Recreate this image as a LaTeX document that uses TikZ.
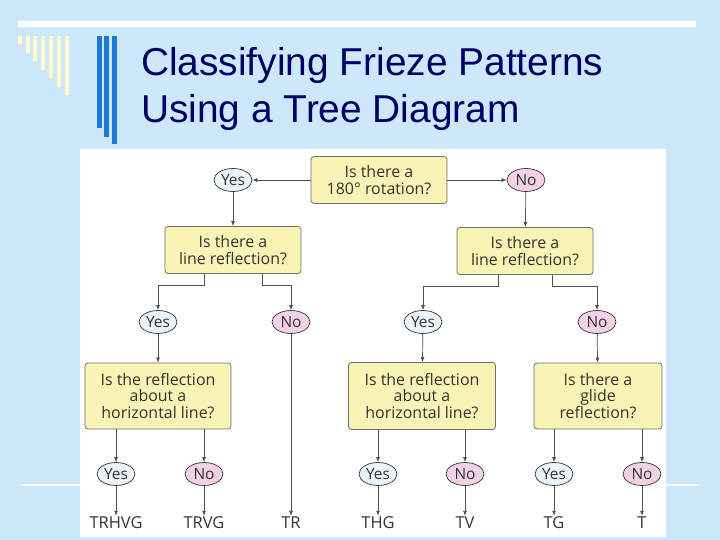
\documentclass[tikz,border=0pt]{standalone}
\usepackage{fontspec}
\setmainfont{Open Sans}
\newfontfamily\titlefont{Liberation Sans}
\usetikzlibrary{positioning}
\usetikzlibrary{shapes.geometric,arrows.meta}

\definecolor{slidebg}{HTML}{CDE8FA}
\definecolor{barcream}{HTML}{FFFFCC}
\definecolor{barblue}{HTML}{1E78D8}
\definecolor{titleblue}{HTML}{000066}
\definecolor{boxfill}{HTML}{F9F4B6}
\definecolor{boxline}{HTML}{6E6E6E}
\definecolor{inkgray}{HTML}{333333}
\definecolor{yesfill}{HTML}{ECF3F9}
\definecolor{nofill}{HTML}{F2D2E6}

\tikzset{
  question/.style={draw=boxline,fill=boxfill,rounded corners=3bp,line width=0.8bp,
    align=center,text=inkgray,inner sep=2bp,font=\fontsize{16}{16.5}\selectfont},
  answer/.style={ellipse,draw=inkgray,line width=0.7bp,inner sep=0pt,
    minimum width=38bp,minimum height=23bp,text=inkgray,font=\fontsize{15.5}{15.5}\selectfont},
  yesans/.style={answer,fill=yesfill},
  noans/.style={answer,fill=nofill},
  leaf/.style={text=inkgray,inner sep=1bp,font=\fontsize{16.5}{16.5}\selectfont},
  arr/.style={draw=inkgray!85,line width=0.7bp,-{Latex[length=5bp,width=4bp]}}
}

\begin{document}
\begin{tikzpicture}[x=1bp,y=-1bp]
 % slide background
 \fill[slidebg] (0,0) rectangle (720,540);
 \useasboundingbox (0,0) rectangle (720,540);
 \fill[white] (18,21) rectangle (696,27);
 \fill[white] (21,484) rectangle (699,486);
 \foreach \x/\b in {18/44,26/53,33/61,41/70,49/78,57/87,65/95}
   \fill[barcream] (\x,36) rectangle (\x+4,\b);
 \foreach \x/\b in {97/128,104/137,112/144}
   \fill[barblue] (\x,36) rectangle (\x+5,\b);
 \node[anchor=base west,inner sep=0pt,text=titleblue,font=\titlefont\fontsize{39}{47}\selectfont]
   (title1) at (141,76) {Classifying Frieze Patterns};
 \node[anchor=base west,inner sep=0pt,text=titleblue,font=\titlefont\fontsize{39}{47}\selectfont]
   (title2) at (141,123) {Using a Tree Diagram};
 % tree diagram picture
 \fill[white] (80,149) rectangle (666,537);

 \node[question,minimum width=136bp,minimum height=47bp] (rot) at (379,180) {Is there a\\180\textdegree\ rotation?};
 \node[yesans] (rotyes) at (233,180) {Yes};
 \node[noans] (rotno) at (526,180) {No};

 \node[question,minimum width=136bp,minimum height=47bp] (refla) at (233,250) {Is there a\\line reflection?};
 \node[question,minimum width=136bp,minimum height=47bp] (reflb) at (525,251) {Is there a\\line reflection?};

 \node[yesans] (reflayes) at (158,322) {Yes};
 \node[noans] (reflano) at (291,322) {No};
 \node[yesans] (reflbyes) at (423,322) {Yes};
 \node[noans] (reflbno) at (597,322) {No};

 \node[question,minimum width=146bp,minimum height=66bp] (hora) at (158,396) {Is the reflection\\about a\\horizontal line?};
 \node[question,minimum width=147bp,minimum height=67bp] (horb) at (422,396) {Is the reflection\\about a\\horizontal line?};
 \node[question,minimum width=128bp,minimum height=66bp] (glide) at (598,396) {Is there a\\glide\\reflection?};

 \node[yesans] (horayes) at (116,474) {Yes};
 \node[noans] (horano) at (204,474) {No};
 \node[yesans] (horbyes) at (378,474) {Yes};
 \node[noans] (horbno) at (465,474) {No};
 \node[yesans] (glideyes) at (554,474) {Yes};
 \node[noans] (glideno) at (642,474) {No};

 \node[leaf] (trhvg) at (116,523) {TRHVG};
 \node[leaf] (trvg) at (204,523) {TRVG};
 \node[leaf] (tr) at (291,523) {TR};
 \node[leaf] (thg) at (378,523) {THG};
 \node[leaf] (tv) at (465,523) {TV};
 \node[leaf] (tg) at (554,523) {TG};
 \node[leaf] (t) at (642,523) {T};

 % connectors
 \draw[arr] (rot.west) -- (rotyes);
 \draw[arr] (rot.east) -- (rotno);
 \draw[arr] (rotyes) -- (refla);
 \draw[arr] (rotno) -- (reflb);
 \draw[arr] ([xshift=-29bp]refla.south) -- ++(0,11) -| (reflayes);
 \draw[arr] ([xshift=29bp]refla.south) -- ++(0,11) -| (reflano);
 \draw[arr] ([xshift=-27bp]reflb.south) -- ++(0,11) -| (reflbyes);
 \draw[arr] ([xshift=27bp]reflb.south) -- ++(0,11) -| (reflbno);
 \draw[arr] (reflayes) -- (hora);
 \draw[arr] (reflano) -- (tr);
 \draw[arr] (reflbyes) -- (horb);
 \draw[arr] (reflbno) -- (glide);
 \draw[arr] (horayes |- hora.south) -- (horayes);
 \draw[arr] (horano |- hora.south) -- (horano);
 \draw[arr] (horbyes |- horb.south) -- (horbyes);
 \draw[arr] (horbno |- horb.south) -- (horbno);
 \draw[arr] (glideyes |- glide.south) -- (glideyes);
 \draw[arr] (glideno |- glide.south) -- (glideno);
 \draw[arr] (horayes) -- (trhvg);
 \draw[arr] (horano) -- (trvg);
 \draw[arr] (horbyes) -- (thg);
 \draw[arr] (horbno) -- (tv);
 \draw[arr] (glideyes) -- (tg);
 \draw[arr] (glideno) -- (t);
\end{tikzpicture}
\end{document}
